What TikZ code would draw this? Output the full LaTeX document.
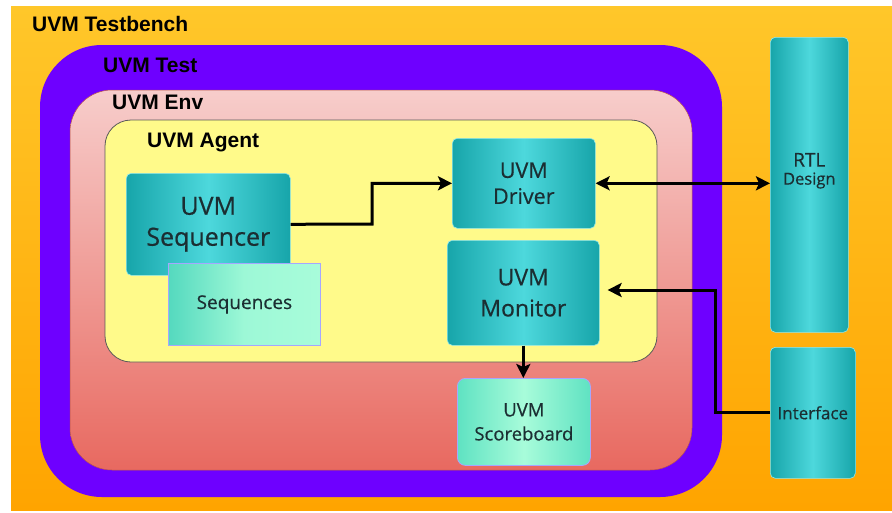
\documentclass[tikz,border=0pt]{standalone}
\usepackage{fontspec}
\setmainfont[FakeBold=0.6]{Open Sans}
\newfontfamily\headfont{Liberation Sans}
\usetikzlibrary{arrows.meta}
\definecolor{benchTop}{HTML}{FFC72A}
\definecolor{benchBot}{HTML}{FFA400}
\definecolor{testPurple}{HTML}{6E00FF}
\definecolor{envTop}{HTML}{F7CDCB}
\definecolor{envBot}{HTML}{E86960}
\definecolor{agentYellow}{HTML}{FFFA8A}
\definecolor{tealEdge}{HTML}{17A5AA}
\definecolor{tealMid}{HTML}{4DD8DC}
\definecolor{mintEdge}{HTML}{5FE2C2}
\definecolor{mintMid}{HTML}{A8FCDA}
\definecolor{boxText}{HTML}{1B2E32}
\begin{document}
\begin{tikzpicture}[x=1pt,y=-1pt,
  region/.style={font=\headfont\bfseries\fontsize{21}{24}\selectfont, anchor=west, inner sep=0pt},
  block/.style={anchor=north west, inner sep=0pt, align=center, text=boxText,
    rounded corners=5pt, draw=tealMid!60!white, line width=0.6pt,
    left color=tealEdge, right color=tealEdge, middle color=tealMid},
  mintblock/.style={anchor=north west, inner sep=0pt, align=center, text=boxText,
    draw=blue!35!white, line width=0.8pt,
    left color=mintEdge, right color=mintEdge, middle color=mintMid},
  wire/.style={line width=3pt, black},
  tip/.style={-{Stealth[length=14pt,width=14pt,inset=3pt]}},
  tips/.style={{Stealth[length=14pt,width=14pt,inset=3pt]}-{Stealth[length=14pt,width=14pt,inset=3pt]}}]
\useasboundingbox (0,0) rectangle (892,512);
\fill[white] (0,0) rectangle (892,512);

% testbench background
\path[top color=benchTop, bottom color=benchBot] (11,6) rectangle (892,510);
\node[region] (tb) at (32,24) {UVM Testbench};

% test, env and agent containers
\fill[testPurple, rounded corners=62pt] (40,45) rectangle (722,497);
\node[region] (test) at (103,65) {UVM Test};
\path[draw=envBot!80!black, line width=0.5pt, top color=envTop, bottom color=envBot, rounded corners=42pt] (70,90) rectangle (692,470);
\node[region] (env) at (112,102) {UVM Env};
\path[draw=black!65, line width=0.8pt, fill=agentYellow, rounded corners=26pt] (105,120) rectangle (657,362);
\node[region] (agent) at (147,142) {UVM Agent};

% agent components
\node[block, minimum width=164pt, minimum height=102pt, font=\fontsize{25}{31}\selectfont]
  (seq) at (126,173) {UVM\\Sequencer};
\node[mintblock, minimum width=152pt, minimum height=82pt, font=\fontsize{19}{22}\selectfont,
  left color=mintEdge!85!tealEdge, right color=mintMid, middle color=mintMid!85!mintEdge]
  (seqs) at (168,263) {Sequences};
\node[block, minimum width=143pt, minimum height=90pt, font=\fontsize{21.5}{26}\selectfont]
  (drv) at (452,138) {UVM\\Driver};
\node[block, minimum width=152pt, minimum height=105pt, font=\fontsize{23}{31}\selectfont]
  (mon) at (447,240) {UVM\\Monitor};
\node[mintblock, rounded corners=8pt, minimum width=133pt, minimum height=87pt,
  font=\fontsize{18.5}{24}\selectfont]
  (sb) at (457,378) {UVM\\Scoreboard};

% design side
\node[block, minimum width=78pt, minimum height=295pt,
  label={[yshift=14pt, text=boxText, align=center, font=\fontsize{19}{20}\selectfont]center:RTL\\[-2pt]{\fontsize{16.5}{18}\selectfont Design}}]
  (rtl) at (770,37) {};
\node[block, minimum width=85pt, minimum height=131pt, font=\fontsize{17}{20}\selectfont]
  (ifc) at (770,347) {Interface};

% connections
\coordinate (sbend) at (372,224);
\coordinate (ibend) at (715,290);
\draw[wire, tip] (seq.east) -- (sbend) |- (drv.west);
\draw[wire, tips] (drv.east) -- (rtl.west |- drv.east);
\draw[wire, tip, shorten >=8pt] (ifc.west) -| (ibend) -- (mon.east |- ibend);
\draw[wire, tip] (mon.south) -- (mon.south |- sb.north);
\end{tikzpicture}
\end{document}
